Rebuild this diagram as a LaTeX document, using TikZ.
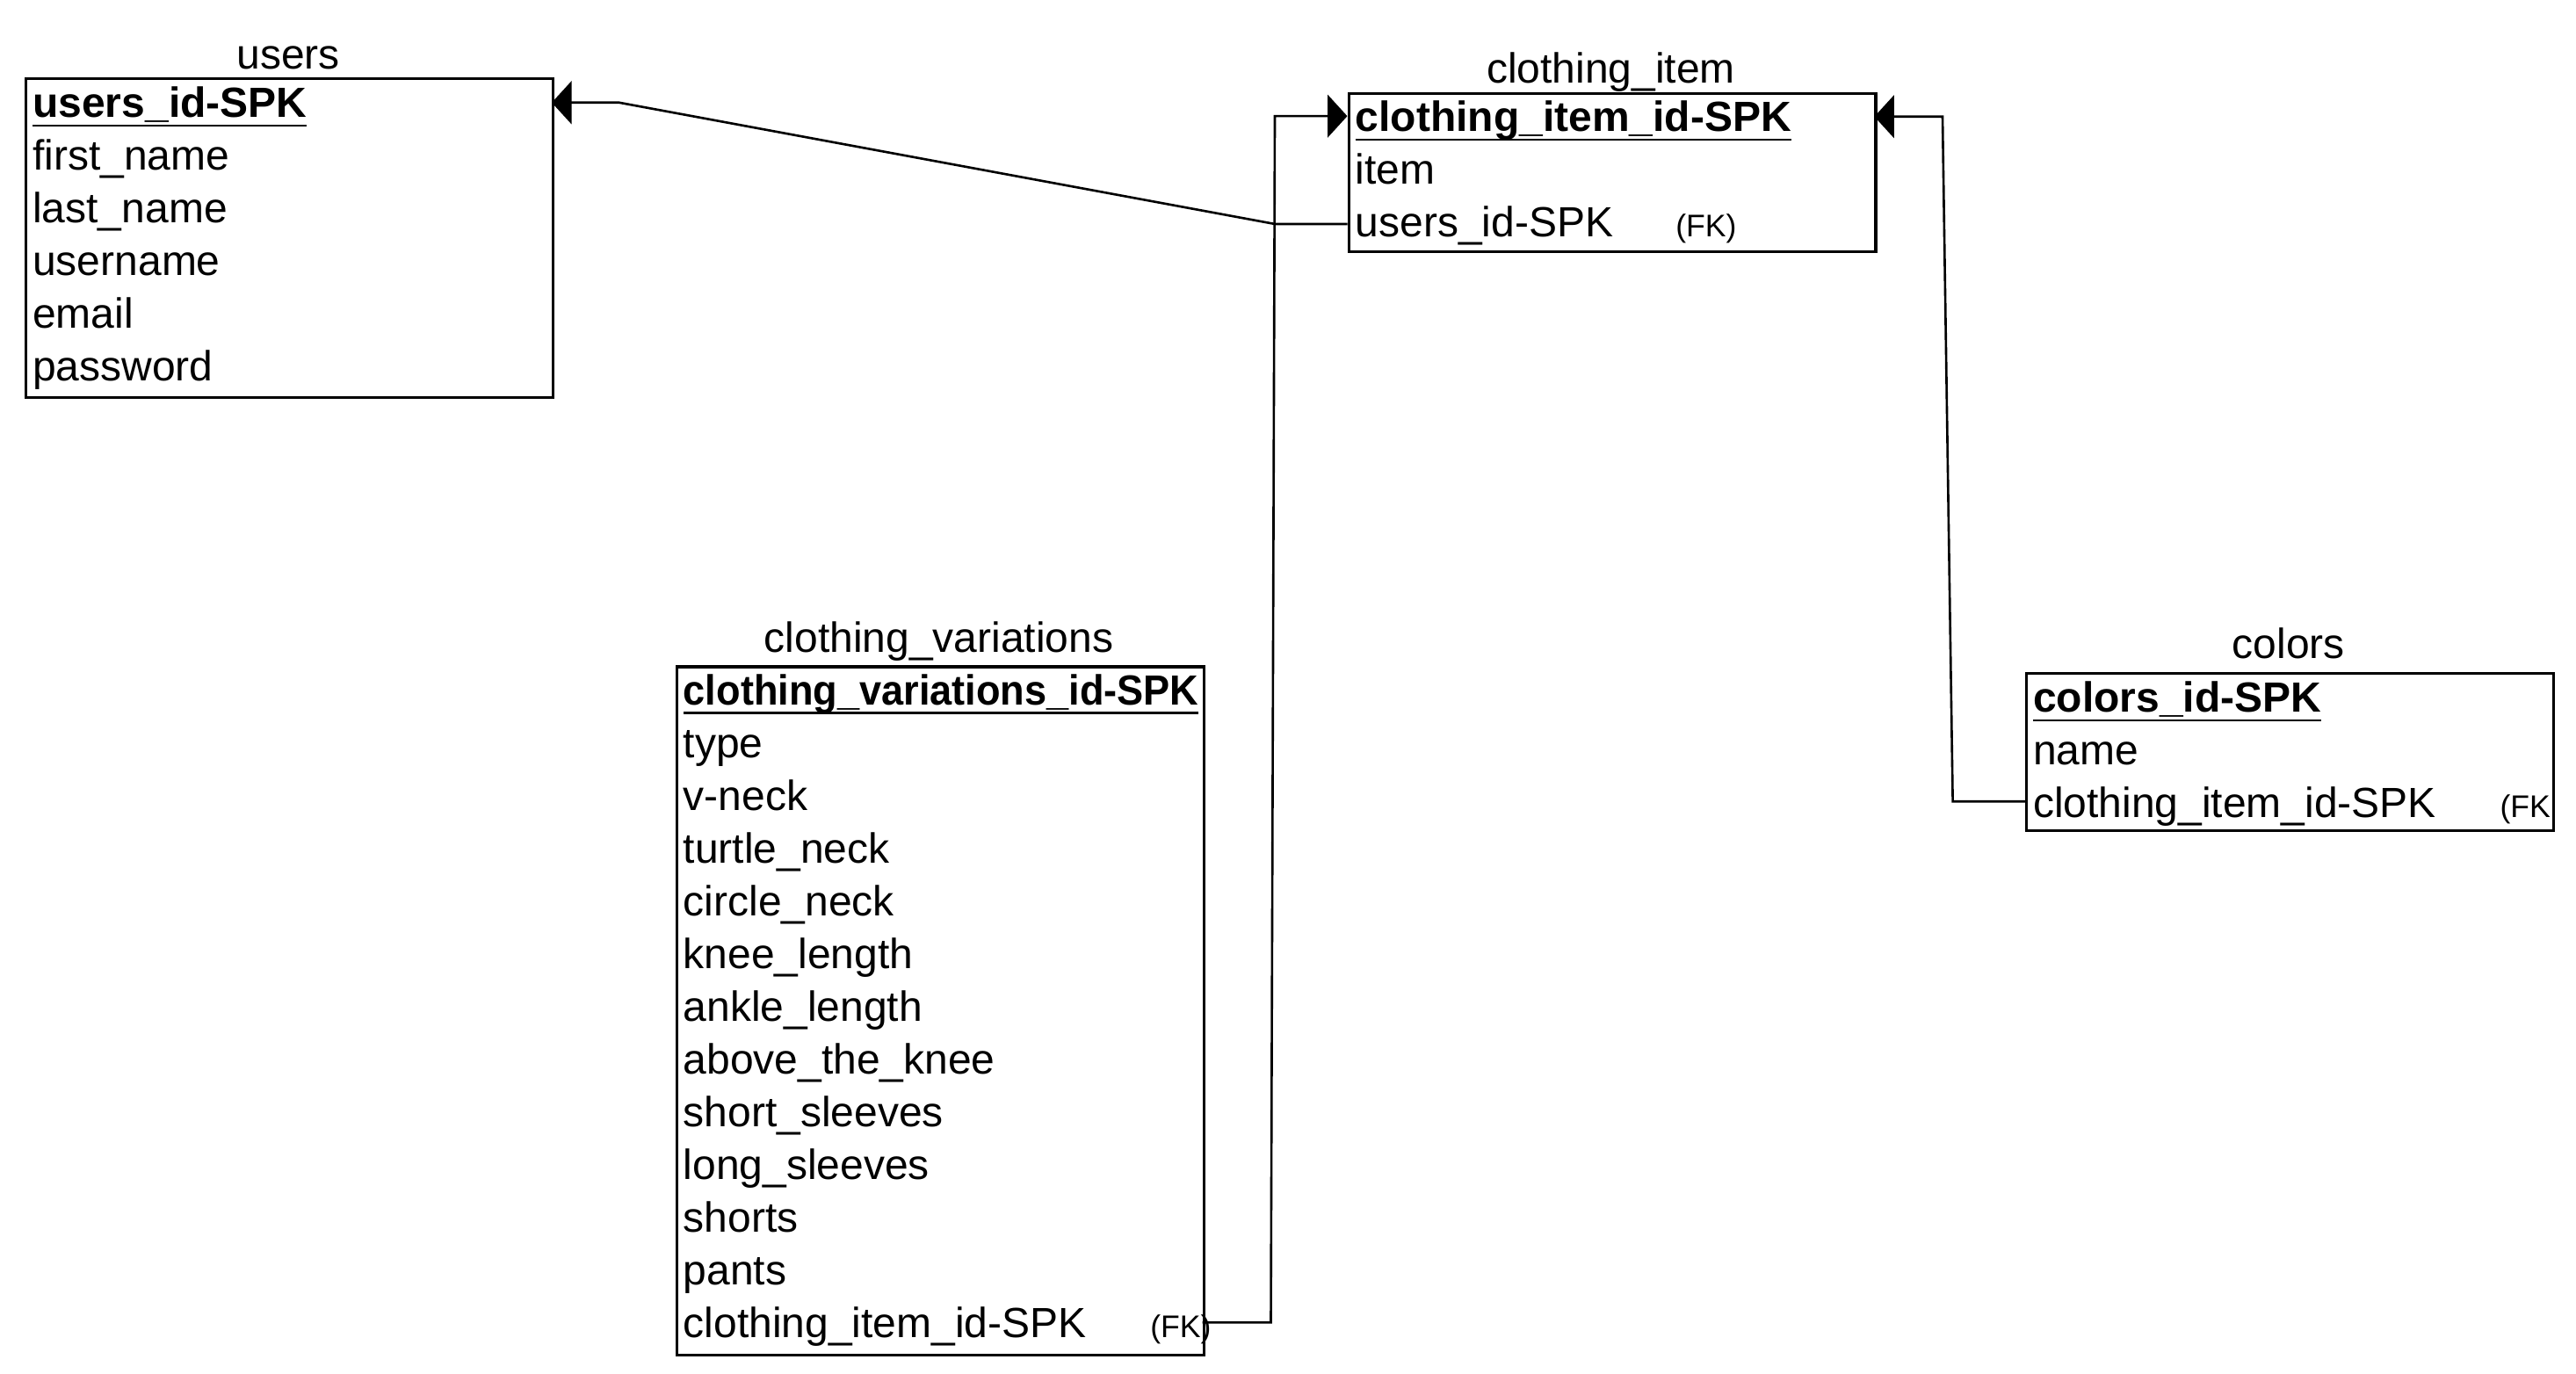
\documentclass[tikz,border=0pt]{standalone}
\usepackage{fontspec}
\usepackage{graphicx}
\setmainfont{Liberation Sans}
\usetikzlibrary{arrows.meta}
\newcommand\pkline[1]{\setbox0=\hbox{\bfseries #1}\rlap{\rule[-2.8pt]{\wd0}{0.7pt}}\box0}
\tikzset{
  tbl/.style={draw, line width=0.9pt, minimum width=160pt, anchor=north west, inner sep=0pt},
  rowtxt/.style={anchor=base west, inner sep=0pt, font=\fontsize{12.8}{15}\selectfont},
  ttl/.style={anchor=base, inner sep=0pt, font=\fontsize{12.8}{15}\selectfont},
  fklbl/.style={anchor=base west, inner sep=0pt, font=\fontsize{9.5}{11}\selectfont},
  link/.style={line width=0.7pt, line join=miter},
  tip/.style={-{Triangle[length=6pt,width=13pt]}}
}
\begin{document}
\begin{tikzpicture}[x=0.5pt,y=-0.5pt]
\useasboundingbox (0,0) rectangle (1564,834.27);

% ---- users ----
\node[ttl] (users-title) at (175,42) {users};
\node[tbl, minimum height=96.75pt] (users) at (15,47) {};
\node[rowtxt] (users-1) at (19.5,71.4) {\pkline{users\_id-SPK}};
\foreach \t [count=\i from 2] in {first\_name,last\_name,username,email,password}
  \node[rowtxt] (users-\i) at (19.5,{71.4+32*(\i-1)}) {\t};

% ---- clothing_item ----
\node[ttl] (ci-title) at (978,50.5) {clothing\_item};
\node[tbl, minimum height=48pt] (ci) at (818,56) {};
\node[rowtxt] (ci-1) at (822.5,80) {\pkline{clothing\_item\_id-SPK}};
\node[rowtxt] (ci-2) at (822.5,112) {item};
\node[rowtxt] (ci-3) at (822.5,144) {users\_id-SPK};
\node[fklbl] (ci-fklbl) at (1017,144) {(FK)};

% ---- clothing_variations ----
\node[ttl] (cv-title) at (570,396) {clothing\_variations};
\node[tbl, minimum height=209pt] (cv) at (410,404) {};
\node[rowtxt] (cv-1) at (414.5,428) {\scalebox{0.94}[1]{\pkline{clothing\_variations\_id-SPK}}};
\foreach \t [count=\i from 2] in {type,v-neck,turtle\_neck,circle\_neck,knee\_length,ankle\_length,above\_the\_knee,short\_sleeves,long\_sleeves,shorts,pants,clothing\_item\_id-SPK}
  \node[rowtxt] (cv-\i) at (414.5,{428+32*(\i-1)}) {\t};
\node[fklbl] (cv-fklbl) at (698,812) {(FK)};

% ---- colors ----
\node[ttl] (co-title) at (1389.5,400) {colors};
\node[tbl, minimum height=47.75pt] (co) at (1229.5,408) {};
\node[rowtxt] (co-1) at (1234,432.5) {\pkline{colors\_id-SPK}};
\node[rowtxt] (co-2) at (1234,464.5) {name};
\node[rowtxt] (co-3) at (1234,496.5) {clothing\_item\_id-SPK};
\node[fklbl] (co-fklbl) at (1517.5,496.5) {(FK};

% ---- ports ----
\coordinate (users-pk) at (335,62.3);
\coordinate (ci-fk) at (818,136);
\coordinate (ci-pkL) at (818,70.5);
\coordinate (ci-pkR) at (1138,70.8);
\coordinate (cv-fk) at (730,803);
\coordinate (co-fk) at (1229.5,486.6);

% ---- connectors ----
\draw[link,tip] (ci-fk) -- (774,136) -- (376,62.3) -- (users-pk);
\draw[link,tip] (cv-fk) -- (771.6,803) -- (774,70.5) -- (ci-pkL);
\draw[link,tip] (co-fk) -- (1185.6,486.6) -- (1179.4,70.8) -- (ci-pkR);
\end{tikzpicture}
\end{document}
